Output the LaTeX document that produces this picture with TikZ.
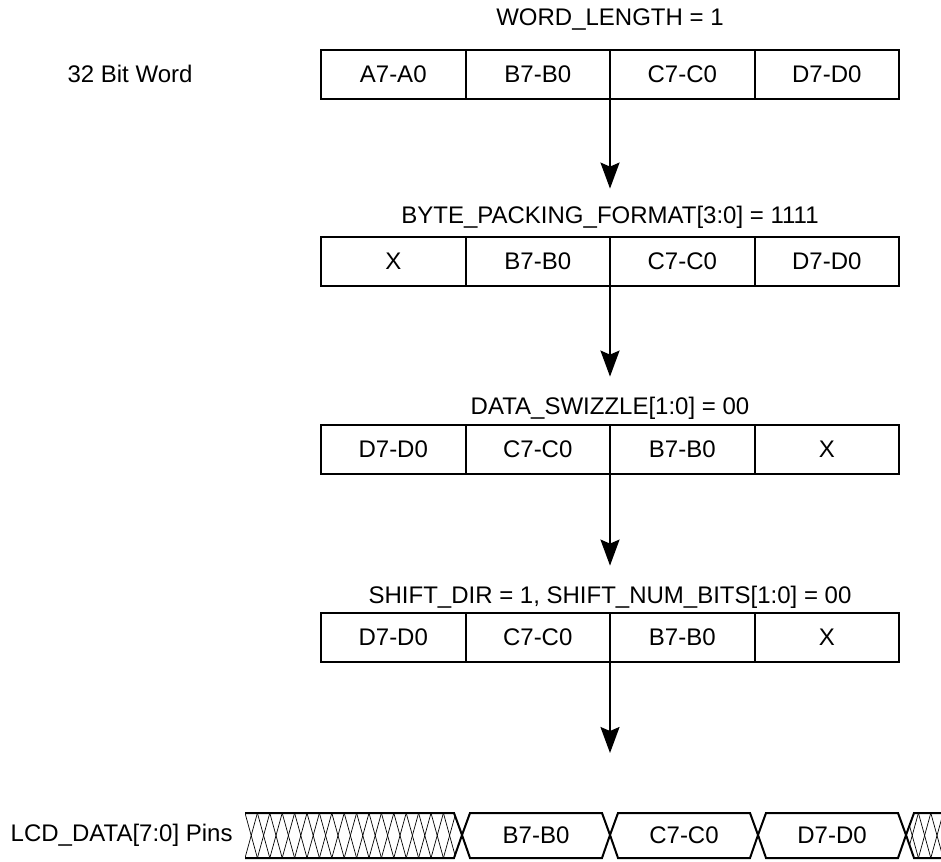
\documentclass[tikz,border=0pt]{standalone}
\usepackage{fontspec}
\setmainfont{Liberation Sans}
\usetikzlibrary{arrows.meta,positioning}

\tikzset{
  cell/.style={draw, line width=1pt, minimum width=72.25pt, minimum height=24.5pt,
    inner sep=0pt, outer sep=0pt, font=\fontsize{12}{14}\selectfont},
  ttl/.style={inner sep=0pt, text height=8.5pt, text depth=2.5pt, font=\fontsize{12}{14}\selectfont},
  lbl/.style={inner sep=0pt, font=\fontsize{12}{14}\selectfont},
  flow/.style={line width=1pt, -{Stealth[length=13pt, width=9.5pt, inset=2pt]}},
  bus/.style={line width=1pt},
  hatch/.style={line width=0.35pt},
}

\begin{document}
\begin{tikzpicture}[x=0.5pt, y=-0.5pt]
\useasboundingbox (0,0) rectangle (941,861);

% 32 bit word as stored
\node[lbl] (word) at (130,74) {32 Bit Word};
\node[ttl] (t1) at (610,20) {WORD\_LENGTH = 1};
\node[cell, anchor=north west] (w1) at (321,50) {A7-A0};
\node[cell, right=0pt of w1] (w2) {B7-B0};
\node[cell, right=0pt of w2] (w3) {C7-C0};
\node[cell, right=0pt of w3] (w4) {D7-D0};

% after byte packing
\node[ttl] (t2) at (610,218) {BYTE\_PACKING\_FORMAT[3:0] = 1111};
\node[cell, anchor=north west] (p1) at (321,237) {X};
\node[cell, right=0pt of p1] (p2) {B7-B0};
\node[cell, right=0pt of p2] (p3) {C7-C0};
\node[cell, right=0pt of p3] (p4) {D7-D0};

% after swizzle
\node[ttl] (t3) at (610,408) {DATA\_SWIZZLE[1:0] = 00};
\node[cell, anchor=north west] (s1) at (321,425) {D7-D0};
\node[cell, right=0pt of s1] (s2) {C7-C0};
\node[cell, right=0pt of s2] (s3) {B7-B0};
\node[cell, right=0pt of s3] (s4) {X};

% after shift
\node[ttl] (t4) at (610,597) {SHIFT\_DIR = 1, SHIFT\_NUM\_BITS[1:0] = 00};
\node[cell, anchor=north west] (h1) at (321,613) {D7-D0};
\node[cell, right=0pt of h1] (h2) {C7-C0};
\node[cell, right=0pt of h2] (h3) {B7-B0};
\node[cell, right=0pt of h3] (h4) {X};

% arrows between stages
\draw[flow, shorten >=9pt] (w2.south east) -- (w2.south east |- t2.north);
\draw[flow, shorten >=10pt] (p2.south east) -- (p2.south east |- t3.north);
\draw[flow, shorten >=10pt] (s2.south east) -- (s2.south east |- t4.north);

% LCD pins waveform (top 813, mid 835, bottom 858)
\node[lbl, anchor=east] (pins) at (233,835) {LCD\_DATA[7:0] Pins};
\begin{scope}
  \clip (245,813) -- (454,813) -- (462,835) -- (454,858) -- (245,858) -- cycle;
  \foreach \x in {245,257.4,...,460} {
    \draw[hatch] (\x,813) -- (\x+12.4,858);
    \draw[hatch] (\x+12.4,813) -- (\x,858);
  }
\end{scope}
\draw[bus] (245,813) -- (454,813) -- (462,835) -- (454,858) -- (245,858);
\draw[bus] (462,835) -- (470,813) -- (602,813) -- (610,835) -- (602,858) -- (470,858) -- cycle;
\draw[bus] (610,835) -- (618,813) -- (750,813) -- (758,835) -- (750,858) -- (618,858) -- cycle;
\draw[bus] (758,835) -- (766,813) -- (898,813) -- (906,835) -- (898,858) -- (766,858) -- cycle;
\begin{scope}
  \clip (906,835) -- (914,813) -- (941,813) -- (941,858) -- (914,858) -- cycle;
  \foreach \x in {906,918.4,...,941} {
    \draw[hatch] (\x,813) -- (\x+12.4,858);
    \draw[hatch] (\x+12.4,813) -- (\x,858);
  }
\end{scope}
\draw[bus] (941,813) -- (914,813) -- (906,835) -- (914,858) -- (941,858);
\node[lbl] (bb) at (536,835) {B7-B0};
\node[lbl] (cc) at (684,835) {C7-C0};
\node[lbl] (dd) at (832,835) {D7-D0};

\coordinate (tip4) at (610,753);
\draw[flow] (h2.south east) -- (tip4);
\end{tikzpicture}
\end{document}
